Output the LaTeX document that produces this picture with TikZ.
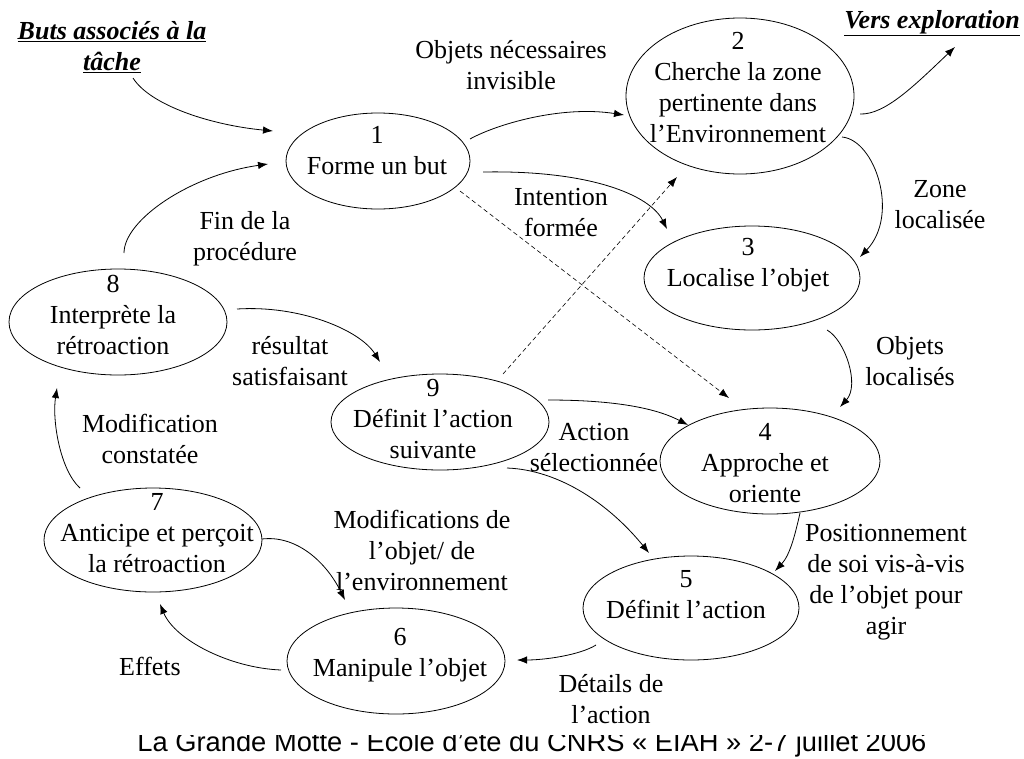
\documentclass[tikz,border=0pt]{standalone}
\usepackage{fontspec}
\setmainfont{Liberation Serif}
\newfontfamily\footfont{Liberation Sans}
\usetikzlibrary{arrows.meta,shapes.geometric,calc}
\begin{document}
\begin{tikzpicture}[x=1pt,y=-1pt,
  stage/.style={draw, ellipse, line width=0.8pt, inner sep=0pt},
  txt/.style={align=center, inner sep=0pt, font=\fontsize{26}{31}\selectfont},
  goal/.style={txt, font=\fontsize{26}{31}\selectfont\bfseries\itshape},
  conn/.style={line width=0.8pt, -{Latex[length=10pt,width=7.5pt]}},
  dconn/.style={conn, line width=0.6pt, dash pattern=on 4.5pt off 3pt}]
\useasboundingbox[fill=white] (0,0) rectangle (1024,758);

% ellipses
\node[stage, minimum width=184pt, minimum height=96pt]  (e1) at (378,161) {};
\node[stage, minimum width=228pt, minimum height=156pt] (e2) at (740,96) {};
\node[stage, minimum width=216pt, minimum height=104pt] (e3) at (752,278) {};
\node[stage, minimum width=220pt, minimum height=106pt] (e4) at (770,461) {};
\node[stage, minimum width=216pt, minimum height=104pt] (e5) at (691,608) {};
\node[stage, minimum width=218pt, minimum height=106pt] (e6) at (396,661) {};
\node[stage, minimum width=218pt, minimum height=104pt] (e7) at (153,540) {};
\node[stage, minimum width=218pt, minimum height=106pt] (e8) at (118,322) {};
\node[stage, minimum width=218pt, minimum height=96pt]  (e9) at (440,422) {};

% ellipse texts
\node[txt] (t1) at (377,151) {1\\Forme un but};
\node[txt] (t2) at (738,88) {2\\Cherche la zone\\pertinente dans\\l’Environnement};
\node[txt] (t3) at (748,265) {3\\Localise l’objet};
\node[txt] (t4) at (765,463) {4\\Approche et\\oriente};
\node[txt] (t5) at (686,595) {5\\Définit l’action};
\node[txt] (t6) at (400,655) {6\\Manipule l’objet};
\node[txt] (t7) at (157,533) {7\\Anticipe et perçoit\\la rétroaction};
\node[txt] (t8) at (113,315) {8\\Interprète la\\rétroaction};
\node[txt] (t9) at (433,419) {9\\Définit l’action\\suivante};

% free labels
\node[goal] (buts) at (112,47) {\underline{Buts associés à la}\\\underline{tâche}};
\node[goal] (vers) at (932,23) {\underline{Vers exploration}};
\node[txt] (l12) at (511,65) {Objets nécessaires\\invisible};
\node[txt] (l13) at (561,213) {Intention\\formée};
\node[txt] (l23) at (940,205) {Zone\\localisée};
\node[txt] (l81) at (245,239) {Fin de la\\procédure};
\node[txt] (l89) at (290,361) {résultat\\satisfaisant};
\node[txt] (l34) at (910,361) {Objets\\localisés};
\node[txt] (l95) at (594,448) {Action\\sélectionnée};
\node[txt] (l78) at (150,439) {Modification\\constatée};
\node[txt] (l76) at (422,550) {Modifications de\\l’objet/ de\\l’environnement};
\node[txt] (l67) at (150,666) {Effets};
\node[txt] (l45) at (886,582) {Positionnement\\de soi vis-à-vis\\de l’objet pour\\agir};
\node[txt] (l56) at (611,699) {Détails de\\l’action};

% connectors
\draw[conn] ($(buts)+(21,31)$) .. controls (150,105) and (210,125) .. ($(e1)+(-105,-30)$);
\draw[conn] ($(e8)+(6,-69)$) .. controls (124,220) and (190,175) .. ($(e1)+(-110,3)$);
\draw[conn] ($(e1)+(92,-22)$) .. controls (495,125) and (560,105) .. ($(e2)+(-116,19)$);
\draw[conn] ($(e1)+(105,11)$) .. controls (590,170) and (650,195) .. ($(e3)+(-85,-49)$);
\draw[dconn] ($(e1)+(82,30)$) -- ($(e4)+(-41,-63)$);
\draw[dconn] ($(e9)+(63,-48)$) -- ($(e2)+(-63,81)$);
\draw[conn] ($(e2)+(120,18)$) .. controls (885,115) and (915,85) .. ($(vers)+(23,24)$);
\draw[conn] ($(e2)+(102,41)$) .. controls (875,140) and (900,215) .. ($(e3)+(108,-21)$);
\draw[conn] ($(e3)+(75,52)$) .. controls (845,340) and (860,385) .. ($(e4)+(70,-54)$);
\draw[conn] ($(e9)+(108,-22)$) .. controls (600,400) and (650,405) .. ($(e4)+(-82,-36)$);
\draw[conn] ($(e9)+(67,46)$) .. controls (560,470) and (610,505) .. ($(e5)+(-42,-55)$);
\draw[conn] ($(e4)+(30,52)$) .. controls (795,535) and (790,555) .. ($(e5)+(84,-37)$);
\draw[conn] ($(e5)+(-95,37)$) .. controls (580,655) and (545,660) .. ($(e6)+(121,-1)$);
\draw[conn] ($(e6)+(-115,9)$) .. controls (230,668) and (175,640) .. ($(e7)+(7,64)$);
\draw[conn] ($(e7)+(109,-1)$) .. controls (295,535) and (325,560) .. ($(e6)+(-51,-61)$);
\draw[conn] ($(e7)+(-73,-52)$) .. controls (60,470) and (52,420) .. ($(e8)+(-61,66)$);
\draw[conn] ($(e8)+(119,-13)$) .. controls (300,305) and (360,330) .. ($(e9)+(-60,-60)$);

% footer (top clipped as in the reference)
\begin{scope}
  \clip (0,735) rectangle (1024,758);
  \node[anchor=base, inner sep=0pt, font=\footfont\fontsize{27.3}{30}\selectfont] (foot) at (532,751) {La Grande Motte - École d’été du CNRS « EIAH » 2-7 juillet 2006};
\end{scope}
\end{tikzpicture}
\end{document}
